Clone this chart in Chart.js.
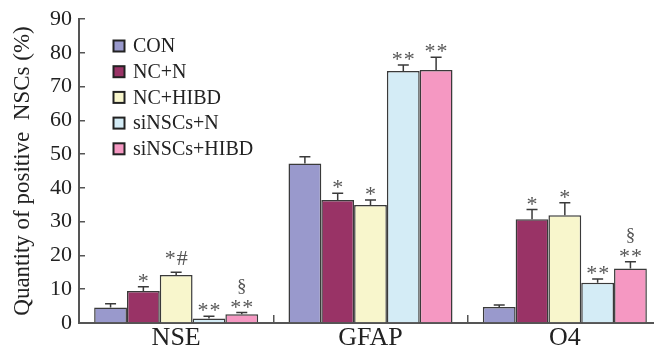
<!DOCTYPE html>
<html>
<head>
<meta charset="utf-8">
<script src="https://cdn.jsdelivr.net/npm/chart.js@4/dist/chart.umd.min.js"></script>
<style>
    body { margin: 0; overflow: hidden; background: #fff; }
    #wrap { width: 662px; height: 349px; }
</style>
</head>
<body>
<div id="wrap"><canvas id="grafico" width="662" height="349"></canvas></div>
<script>
// Dados
const categorias = ['NSE', 'GFAP', 'O4'];
const grupos = ['CON', 'NC+N', 'NC+HIBD', 'siNSCs+N', 'siNSCs+HIBD'];
const cores = ['#9999cc', '#993366', '#f8f6cc', '#d4ecf6', '#f598c2'];

const valoresCON = [4.6, 47.2, 4.7];
const valoresNCN = [9.5, 36.4, 30.7];
const valoresNCHIBD = [14.2, 34.9, 31.9];
const valoresSiN = [1.3, 74.6, 11.9];
const valoresSiHIBD = [2.6, 74.9, 16.1];

const erroCON = [1.1, 2.0, 0.6];
const erroNCN = [1.2, 2.0, 2.9];
const erroNCHIBD = [0.8, 1.5, 3.7];
const erroSiN = [0.7, 1.8, 1.1];
const erroSiHIBD = [0.5, 3.8, 2.0];

// Marcas de significância (linhas de cima para baixo)
const marcasCON = [[], [], []];
const marcasNCN = [['*'], ['*'], ['*']];
const marcasNCHIBD = [['*#'], ['*'], ['*']];
const marcasSiN = [['**'], ['**'], ['**']];
const marcasSiHIBD = [['§', '**'], ['**'], ['§', '**']];

const yTicks = ['0', '10', '20', '30', '40', '50', '60', '70', '80', '90'];

const valores = [valoresCON, valoresNCN, valoresNCHIBD, valoresSiN, valoresSiHIBD];
const erros = [erroCON, erroNCN, erroNCHIBD, erroSiN, erroSiHIBD];
const marcas = [marcasCON, marcasNCN, marcasNCHIBD, marcasSiN, marcasSiHIBD];

const fonte = 'Liberation Serif';
const corLinha = '#3a3a3a';

// Plugin: barras de erro e asteriscos
const errorBars = {
    id: 'errorBars',
    afterDatasetsDraw(chart) {
        const ctx = chart.ctx;
        const y = chart.scales.y;
        ctx.save();
        chart.data.datasets.forEach((ds, i) => {
            const meta = chart.getDatasetMeta(i);
            meta.data.forEach((bar, j) => {
                const topo = y.getPixelForValue(ds.data[j] + erros[i][j]);
                ctx.strokeStyle = corLinha;
                ctx.lineWidth = 1.5;
                ctx.beginPath();
                ctx.moveTo(bar.x, bar.y);
                ctx.lineTo(bar.x, topo);
                ctx.moveTo(bar.x - 5.5, topo);
                ctx.lineTo(bar.x + 5.5, topo);
                ctx.stroke();

                const linhas = marcas[i][j];
                ctx.fillStyle = '#555';
                ctx.textAlign = 'center';
                ctx.textBaseline = 'alphabetic';
                for (let k = linhas.length - 1, n = 0; k >= 0; k--, n++) {
                    const t = linhas[k];
                    if (t === '§') {
                        ctx.font = '19px "' + fonte + '"';
                        ctx.letterSpacing = '0px';
                        ctx.fillText(t, bar.x, topo - 3 - n * 18);
                    } else if (t.includes('#')) {
                        ctx.font = '22px "' + fonte + '"';
                        ctx.letterSpacing = '1px';
                        ctx.fillText(t, bar.x + 0.5, topo - 7 - n * 18);
                    } else {
                        ctx.font = '22px "' + fonte + '"';
                        ctx.letterSpacing = '1px';
                        ctx.fillText(t, bar.x + 0.5, topo + 1 - n * 18);
                    }
                }
            });
        });
        ctx.restore();
    }
};

// Plugin: legenda dentro da área do gráfico
const legendaInterna = {
    id: 'legendaInterna',
    afterDraw(chart) {
        const ctx = chart.ctx;
        ctx.save();
        ctx.font = '20px "' + fonte + '"';
        ctx.textBaseline = 'middle';
        ctx.textAlign = 'left';
        grupos.forEach((g, i) => {
            const cy = 46 + i * 25.7;
            ctx.fillStyle = cores[i];
            ctx.fillRect(113.5, cy - 5.5, 11, 11);
            ctx.strokeStyle = '#222';
            ctx.lineWidth = 2;
            ctx.strokeRect(113.5, cy - 5.5, 11, 11);
            ctx.fillStyle = '#222';
            ctx.fillText(g, 133, cy + 1);
        });
        ctx.restore();
    }
};

new Chart(document.getElementById('grafico').getContext('2d'), {
    type: 'bar',
    data: {
        labels: categorias,
        datasets: grupos.map((g, i) => ({
            label: g,
            data: valores[i],
            backgroundColor: cores[i],
            borderColor: corLinha,
            borderWidth: 1.5,
            categoryPercentage: 0.844,
            barPercentage: 1
        }))
    },
    options: {
        responsive: false,
        animation: false,
        devicePixelRatio: 1,
        layout: { padding: { top: 19, left: 0, right: 0, bottom: 0 } },
        plugins: {
            legend: { display: false },
            tooltip: { enabled: false }
        },
        scales: {
            x: {
                grid: {
                    offset: true,
                    drawOnChartArea: false,
                    drawTicks: true,
                    tickLength: -8,
                    color: '#555',
                    lineWidth: 1.5
                },
                border: { color: '#555', width: 2 },
                ticks: {
                    padding: 8,
                    color: '#222',
                    font: { family: fonte, size: 26 }
                },
                afterFit(scale) { scale.height = 26; }
            },
            y: {
                min: 0,
                max: 90,
                grid: {
                    drawOnChartArea: false,
                    drawTicks: true,
                    tickLength: -6,
                    color: '#555',
                    lineWidth: 1.5
                },
                border: { color: '#555', width: 2 },
                ticks: {
                    stepSize: 10,
                    padding: 13,
                    color: '#222',
                    font: { family: fonte, size: 22 },
                    callback: (v, i) => yTicks[i]
                },
                title: {
                    display: true,
                    text: 'Quantity of positive  NSCs (%)',
                    color: '#222',
                    font: { family: fonte, size: 23 },
                    padding: { top: 9, bottom: 0 }
                },
                afterFit(scale) {
                    scale.width = 79;
                    scale.paddingTop = 0;
                    scale.paddingBottom = 0;
                }
            }
        }
    },
    plugins: [errorBars, legendaInterna]
});
</script>
</body>
</html>
